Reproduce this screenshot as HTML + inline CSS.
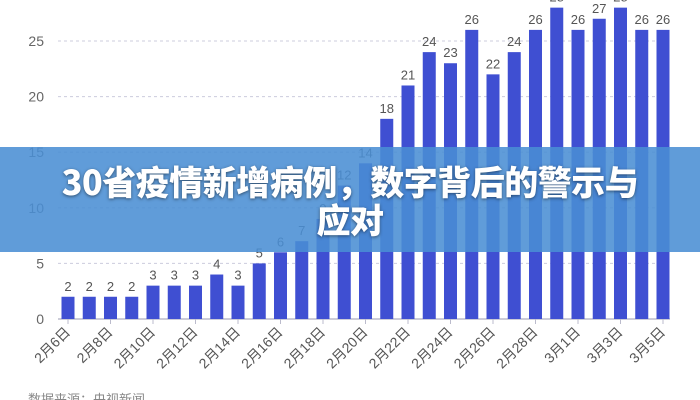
<!DOCTYPE html>
<html><head><meta charset="utf-8"><style>
body{margin:0;width:700px;height:400px;overflow:hidden;background:#fff;font-family:"Liberation Sans","Noto Sans CJK SC",sans-serif}
#banner{position:absolute;left:0;top:147px;width:700px;height:105px;background:rgba(74,142,212,0.88);color:#fff;font-weight:900;font-size:34px;line-height:38px;text-align:center;padding-top:15px;box-sizing:border-box;text-shadow:0 1px 3px rgba(0,0,0,.5);font-family:"Noto Sans CJK SC",sans-serif;letter-spacing:-0.5px}
</style></head><body>
<svg id="chart" width="700" height="400" style="position:absolute;left:0;top:0"></svg>
<div id="banner">30省疫情新增病例，数字背后的警示与<br>应对</div>
<script>
const categories=["2月6日","2月7日","2月8日","2月9日","2月10日","2月11日","2月12日","2月13日","2月14日","2月15日","2月16日","2月17日","2月18日","2月19日","2月20日","2月21日","2月22日","2月23日","2月24日","2月25日","2月26日","2月27日","2月28日","2月29日","3月1日","3月2日","3月3日","3月4日","3月5日"];
const values=[2,2,2,2,3,3,3,4,3,5,6,7,9,12,14,18,21,24,23,26,22,24,26,28,26,27,28,26,26];
const yTicks=[0,5,10,15,20,25];
const NS="http://www.w3.org/2000/svg";
const svg=document.getElementById('chart');
const x0=68,step=21.25,yBase=319,yUnit=11.12;
const xs=i=>x0+i*step;
const ys=v=>yBase-v*yUnit;
function mk(t,a){const e=document.createElementNS(NS,t);for(const k in a)e.setAttribute(k,a[k]);svg.appendChild(e);return e;}
yTicks.forEach(t=>{
  if(t>0){const g=mk('line',{x1:58,x2:668,y1:ys(t),y2:ys(t),stroke:'#ccd',"stroke-dasharray":'3,3'});
  
  }
  const l=mk('text',{x:44,y:ys(t)+5,"text-anchor":'end',"font-size":14,fill:'#666'});l.textContent=t;
  
  
});
const ax=mk('line',{x1:58,x2:670,y1:yBase,y2:yBase,stroke:'#bbc',"stroke-width":1.5});


values.forEach((v,i)=>{
  const b=mk('rect',{x:xs(i)-6.5,y:ys(v),width:13,height:v*yUnit,fill:'#3f4fd2'});
  
  
  const t=mk('text',{x:xs(i),y:ys(v)-6,"text-anchor":'middle',"font-size":13,fill:'#555'});t.textContent=v;
  
  
  if(i%2===0){
    const tk=mk('line',{x1:xs(i),x2:xs(i),y1:yBase,y2:yBase+5,stroke:'#bbc'});
    
    
    const lb=mk('text',{x:xs(i)+3,y:yBase+14,"text-anchor":'end',"font-size":14,fill:'#555',transform:`rotate(-45 ${xs(i)+3} ${yBase+14})`});
    lb.textContent=categories[i];
    
    
  }
});
const src=mk('text',{x:28,y:404,"font-size":13,fill:'#888'});src.textContent='数据来源：央视新闻';


</script>
</body></html>
